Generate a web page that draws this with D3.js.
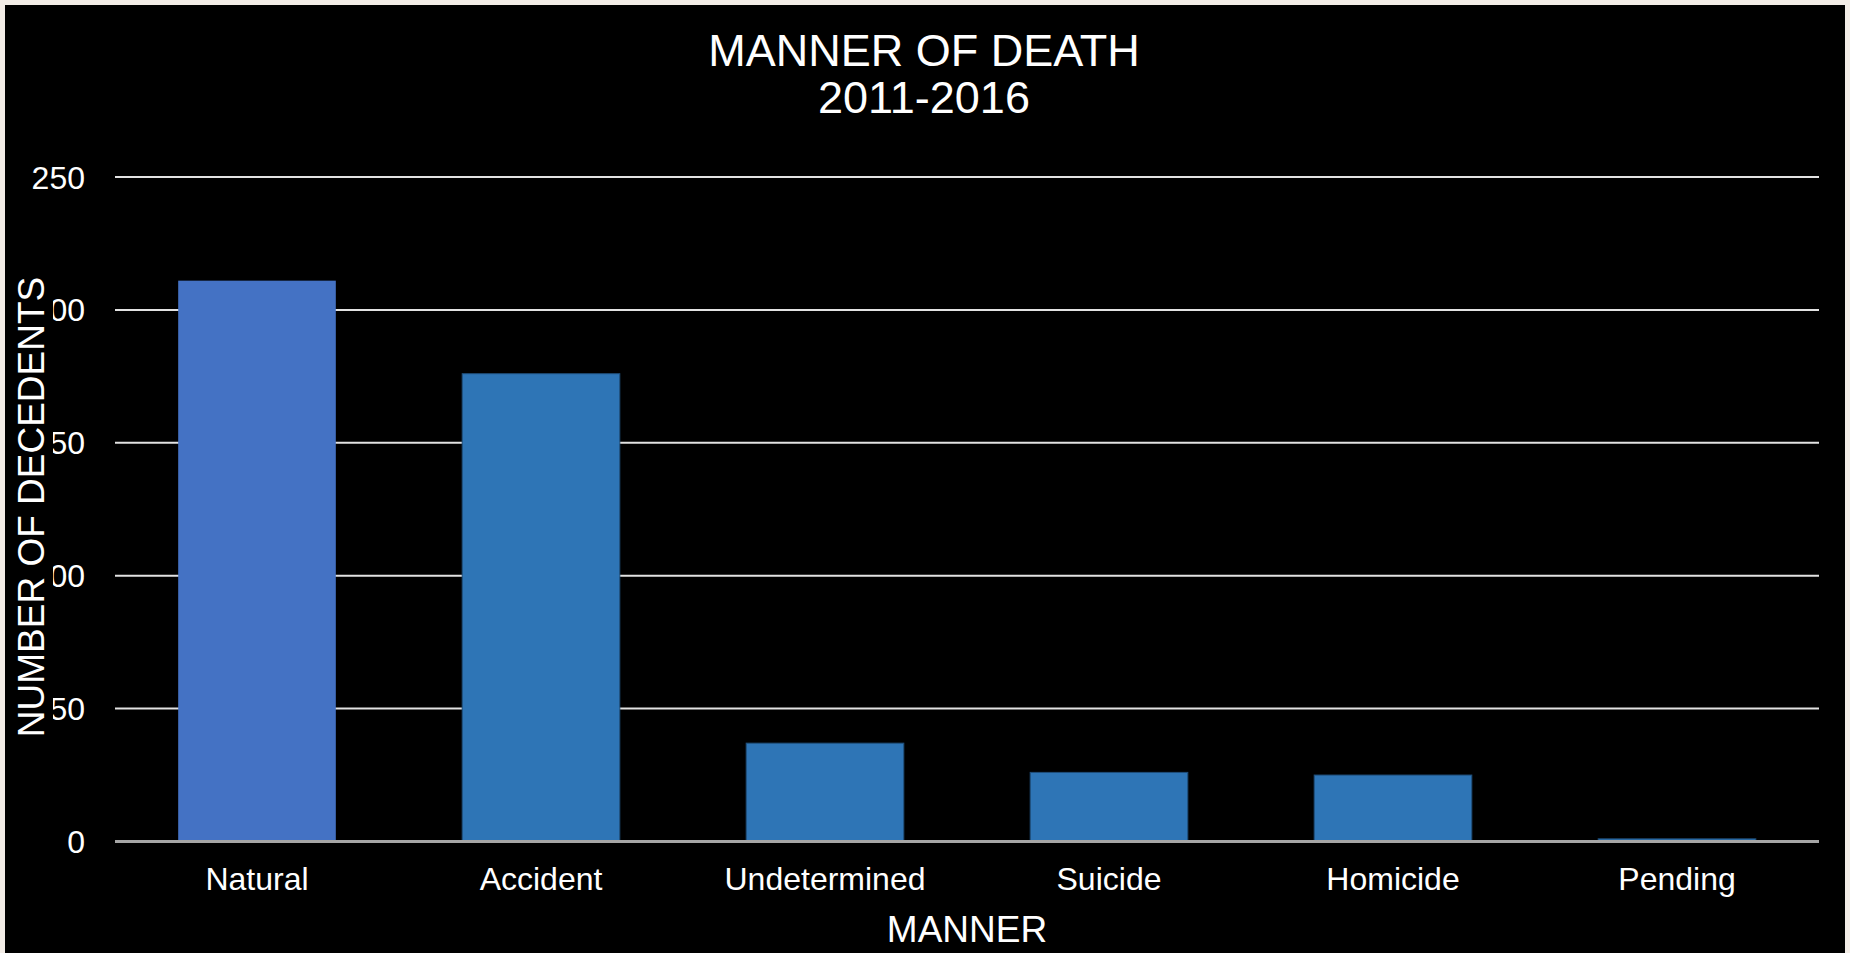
<!DOCTYPE html>
<html>
<head>
<meta charset="utf-8">
<script src="https://cdn.jsdelivr.net/npm/d3@7"></script>
<style>
  html, body { margin: 0; padding: 0; background: #f3ede7; overflow: hidden; }
  text { font-family: "Liberation Sans", Arial, sans-serif; fill: #fff; }
</style>
</head>
<body>
<script>
const categories = ['Natural', 'Accident', 'Undetermined', 'Suicide', 'Homicide', 'Pending'];
const values = [211, 176, 37, 26, 25, 1];
const yTicks = [0, 50, 100, 150, 200, 250];
const barColors = ['#4472c4', '#2e75b6', '#2e75b6', '#2e75b6', '#2e75b6', '#2e75b6'];

const width = 1850;
const height = 953;

const svg = d3.select('body')
    .append('svg')
    .attr('width', width)
    .attr('height', height);

// black slide area
svg.append('rect')
    .attr('x', 5)
    .attr('y', 5)
    .attr('width', 1840)
    .attr('height', height)
    .attr('fill', '#000');

const x = d3.scaleBand()
    .domain(categories)
    .range([115, 1819])
    .paddingInner(0.445)
    .paddingOuter(0.2225);

const y = d3.scaleLinear()
    .domain([0, 250])
    .range([841.5, 177]);

// gridlines
svg.append('g')
    .selectAll('line')
    .data(yTicks.filter((d) => d > 0))
    .join('line')
    .attr('x1', 115)
    .attr('x2', 1819)
    .attr('y1', (d) => y(d))
    .attr('y2', (d) => y(d))
    .attr('stroke', '#e2e2e2')
    .attr('stroke-width', 2);

// y tick labels
svg.append('g')
    .selectAll('text')
    .data(yTicks)
    .join('text')
    .attr('x', 85)
    .attr('y', (d) => y(d))
    .attr('dy', '0.36em')
    .attr('text-anchor', 'end')
    .attr('font-size', 32)
    .text((d) => d);

// bars
svg.append('g')
    .selectAll('rect')
    .data(values)
    .join('rect')
    .attr('x', (d, i) => x(categories[i]))
    .attr('y', (d) => y(d))
    .attr('width', x.bandwidth())
    .attr('height', (d) => y(0) - y(d))
    .attr('fill', (d, i) => barColors[i])
    .attr('stroke', (d, i) => i === 0 ? 'none' : '#1f4e79')
    .attr('stroke-width', 1);

// baseline
svg.append('line')
    .attr('x1', 115)
    .attr('x2', 1819)
    .attr('y1', y(0))
    .attr('y2', y(0))
    .attr('stroke', '#a6a6a6')
    .attr('stroke-width', 3);

// x labels
svg.append('g')
    .selectAll('text')
    .data(categories)
    .join('text')
    .attr('x', (d) => x(d) + x.bandwidth() / 2)
    .attr('y', 890)
    .attr('text-anchor', 'middle')
    .attr('font-size', 32)
    .text((d) => d);

// title
const title = svg.append('text')
    .attr('text-anchor', 'middle')
    .attr('font-size', 45);
title.append('tspan').attr('x', 924).attr('y', 66).text('MANNER OF DEATH');
title.append('tspan').attr('x', 924).attr('y', 113).text('2011-2016');

// y axis title sits on a black box that hides part of the tick labels
svg.append('rect')
    .attr('x', 8)
    .attr('y', 276)
    .attr('width', 45)
    .attr('height', 462)
    .attr('fill', '#000');

svg.append('text')
    .attr('transform', 'translate(44,507) rotate(-90)')
    .attr('text-anchor', 'middle')
    .attr('font-size', 37)
    .text('NUMBER OF DECEDENTS');

// x axis title
svg.append('text')
    .attr('x', 967)
    .attr('y', 942)
    .attr('text-anchor', 'middle')
    .attr('font-size', 37)
    .text('MANNER');
</script>
</body>
</html>
